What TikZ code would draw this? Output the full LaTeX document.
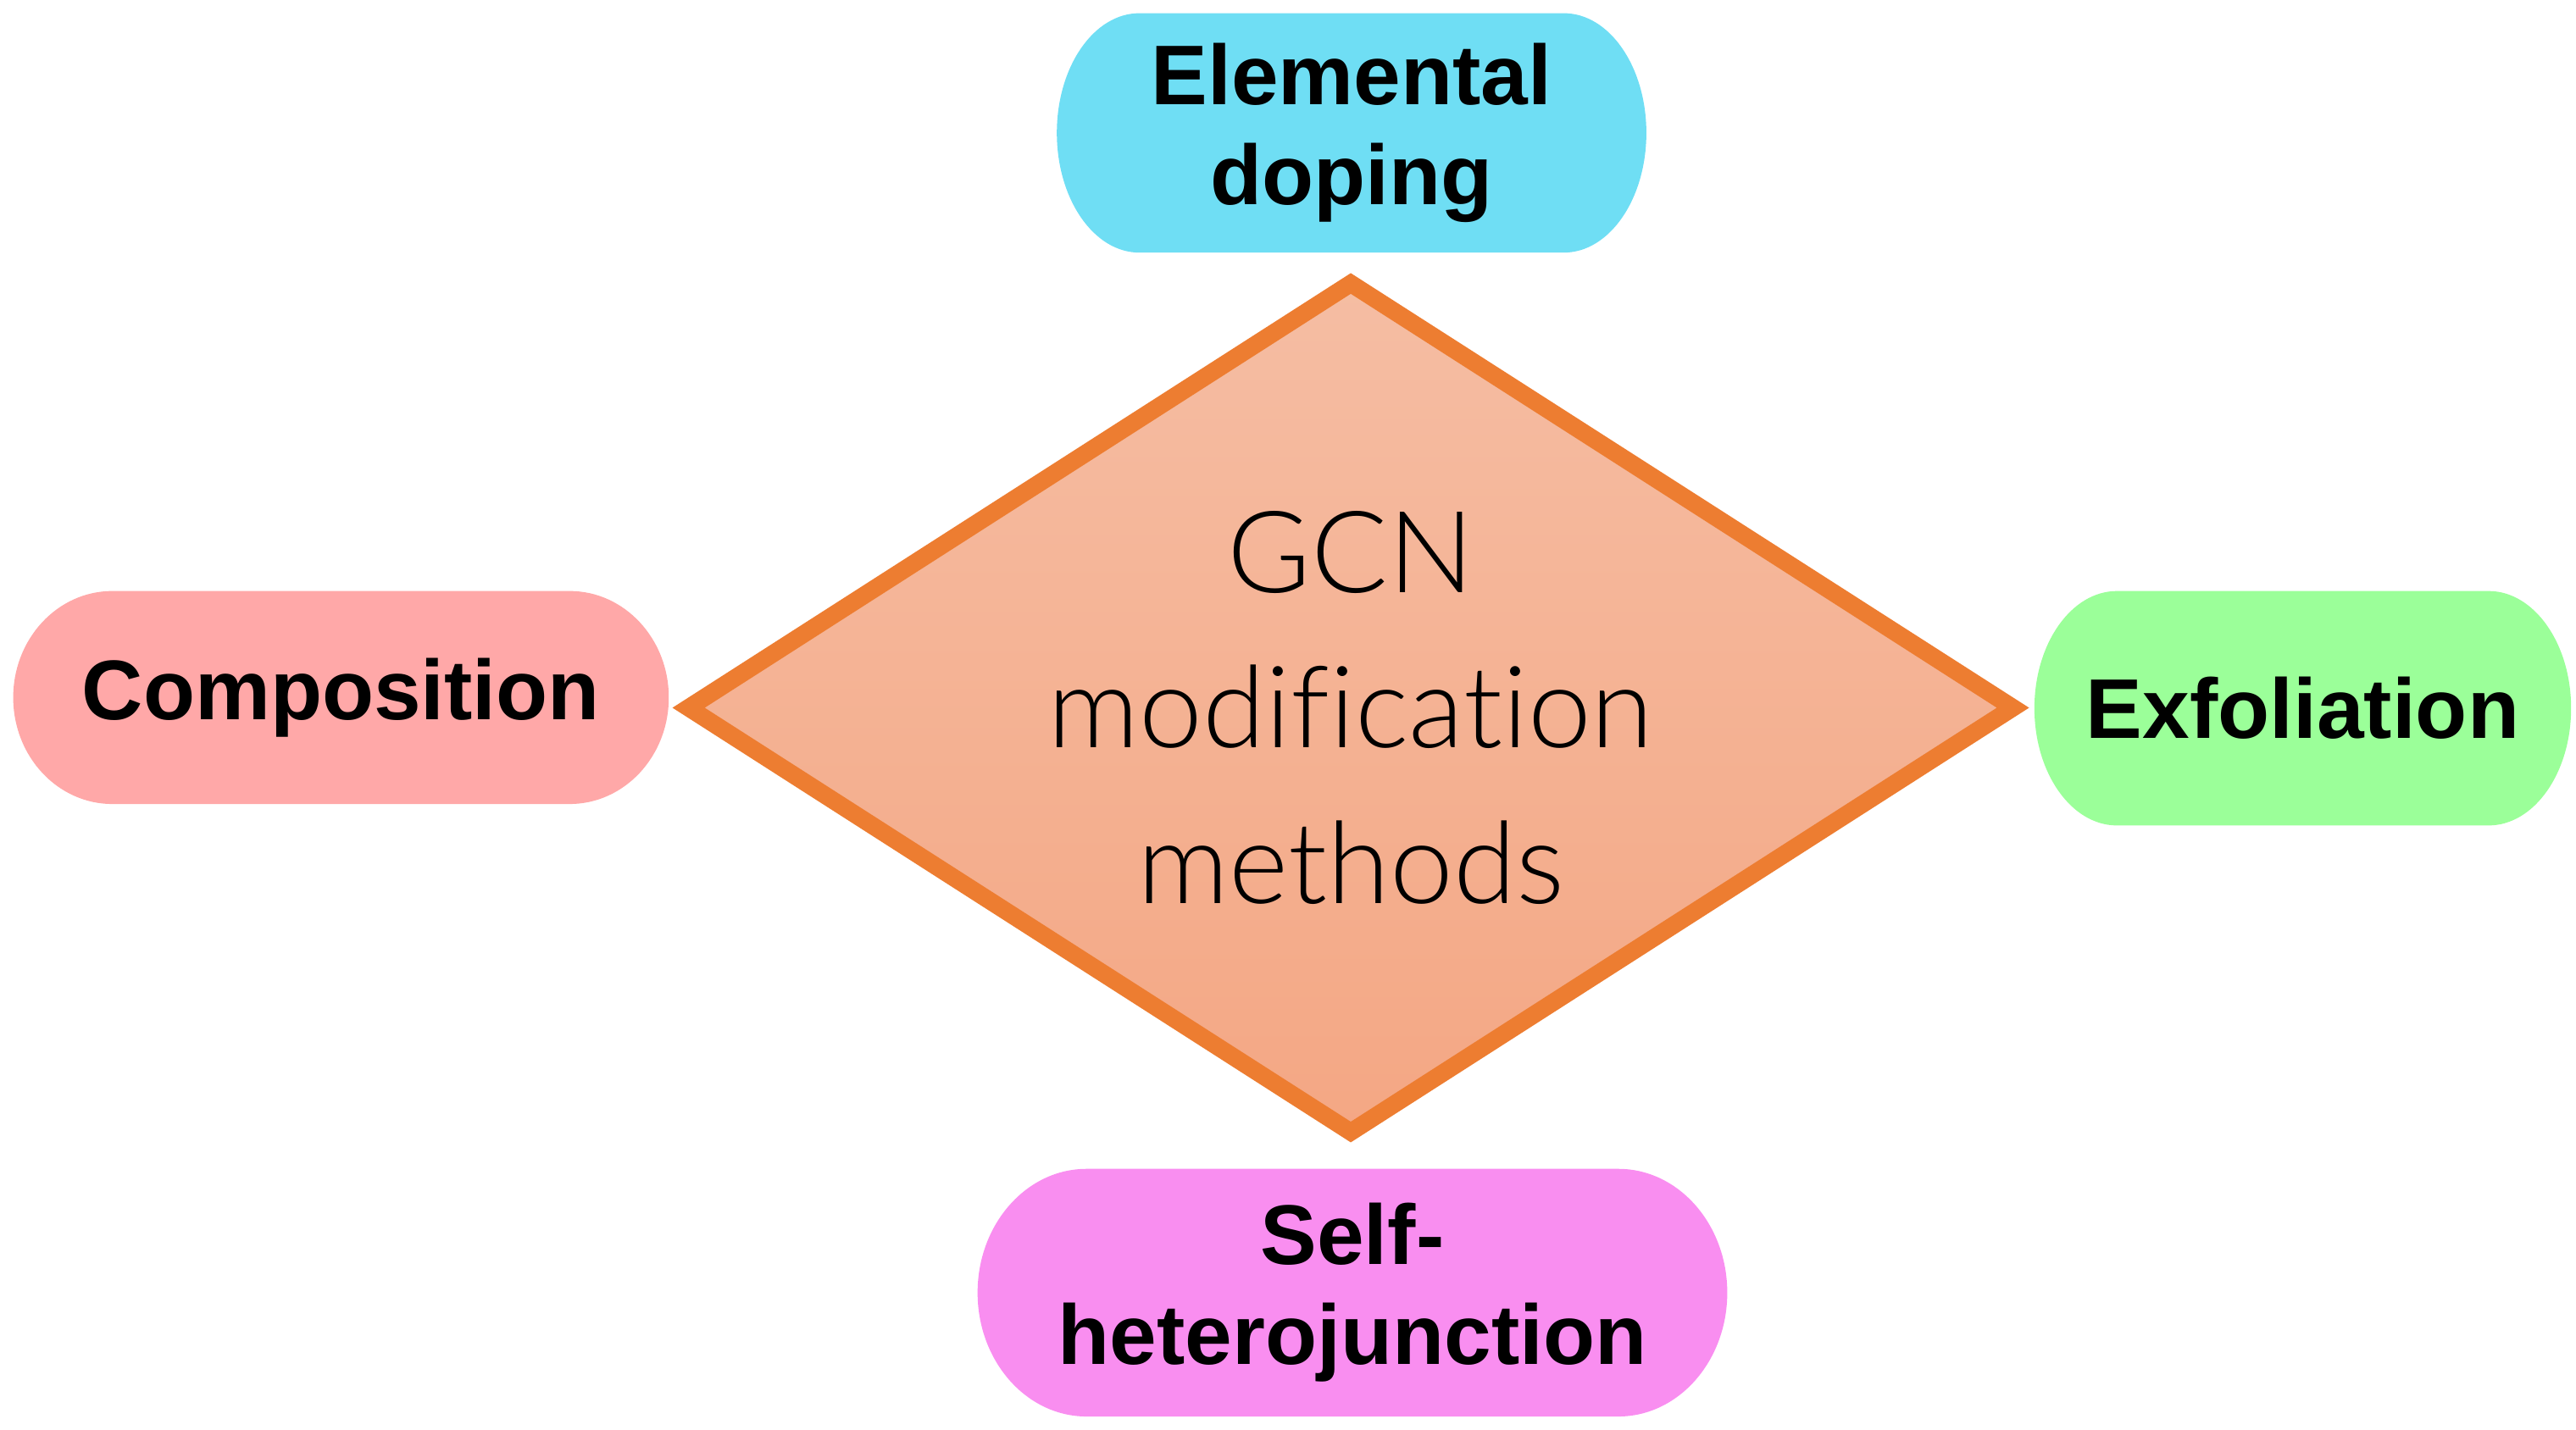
\documentclass[tikz,border=0pt]{standalone}
\usepackage{fontspec}
\setmainfont{Liberation Sans}
\newfontfamily\thinfont[Ligatures=NoCommon]{Lato Light}
\usetikzlibrary{shapes.geometric,calc}
\definecolor{dopcol}{HTML}{6FDEF4}
\definecolor{compcol}{HTML}{FFA8A8}
\definecolor{exfcol}{HTML}{9BFF99}
\definecolor{selfcol}{HTML}{F98EF0}
\definecolor{coreline}{HTML}{ED7D31}
\definecolor{coretop}{HTML}{F5BDA3}
\definecolor{corebot}{HTML}{F4A784}
\pgfdeclarelayer{bg}
\pgfsetlayers{bg,main}
% pill behind a node: node name, colour, x radius of the ends (cm)
\newcommand{\pillfill}[3]{%
  \begin{pgfonlayer}{bg}
  \fill[#2] let \p1=(#1.north), \p2=(#1.south), \n1={0.5*(\y1-\y2)} in
    ($(#1.north west)+(#3,0)$) -- ($(#1.north east)+(-#3,0)$)
    arc[start angle=90, end angle=-90, x radius=#3cm, y radius=\n1]
    -- ($(#1.south west)+(#3,0)$)
    arc[start angle=270, end angle=90, x radius=#3cm, y radius=\n1] -- cycle;
  \end{pgfonlayer}}
\tikzset{
  pill/.style={align=center, inner sep=0pt, outer sep=0pt,
    font=\fontsize{14.6}{17.2}\selectfont\bfseries},
  core/.style={diamond, draw=coreline, line width=3pt, top color=coretop,
    bottom color=corebot, aspect=1.56, inner sep=0pt, outer sep=0pt,
    minimum width=8.02cm, minimum height=5.14cm, align=center,
    font=\thinfont\fontsize{19.6}{26.8}\selectfont}
}

\begin{document}
\begin{tikzpicture}
        \useasboundingbox (0,0) rectangle (15.6,8.657); % page size
        \node[pill, minimum width=3.57cm, minimum height=1.45cm] (dop) at (8.185,7.852) {Elemental\\doping};
        \node[pill, minimum width=3.97cm, minimum height=1.29cm] (comp) at (2.065,4.432) {Composition};
        \node[pill, minimum width=3.25cm, minimum height=1.42cm] (exf) at (13.945,4.367) {Exfoliation};
        \node[pill, minimum width=4.54cm, minimum height=1.50cm] (self) at (8.19,0.827) {Self-\\heterojunction};
        \foreach \nm/\col/\r in {dop/dopcol/0.5,comp/compcol/0.6,exf/exfcol/0.5,self/selfcol/0.66} % coloured pills
        \pillfill{\nm}{\col}{\r};
        \node[core] (gcn) at (8.18,4.37) {GCN\\modification\\methods};
\end{tikzpicture}
\end{document}
